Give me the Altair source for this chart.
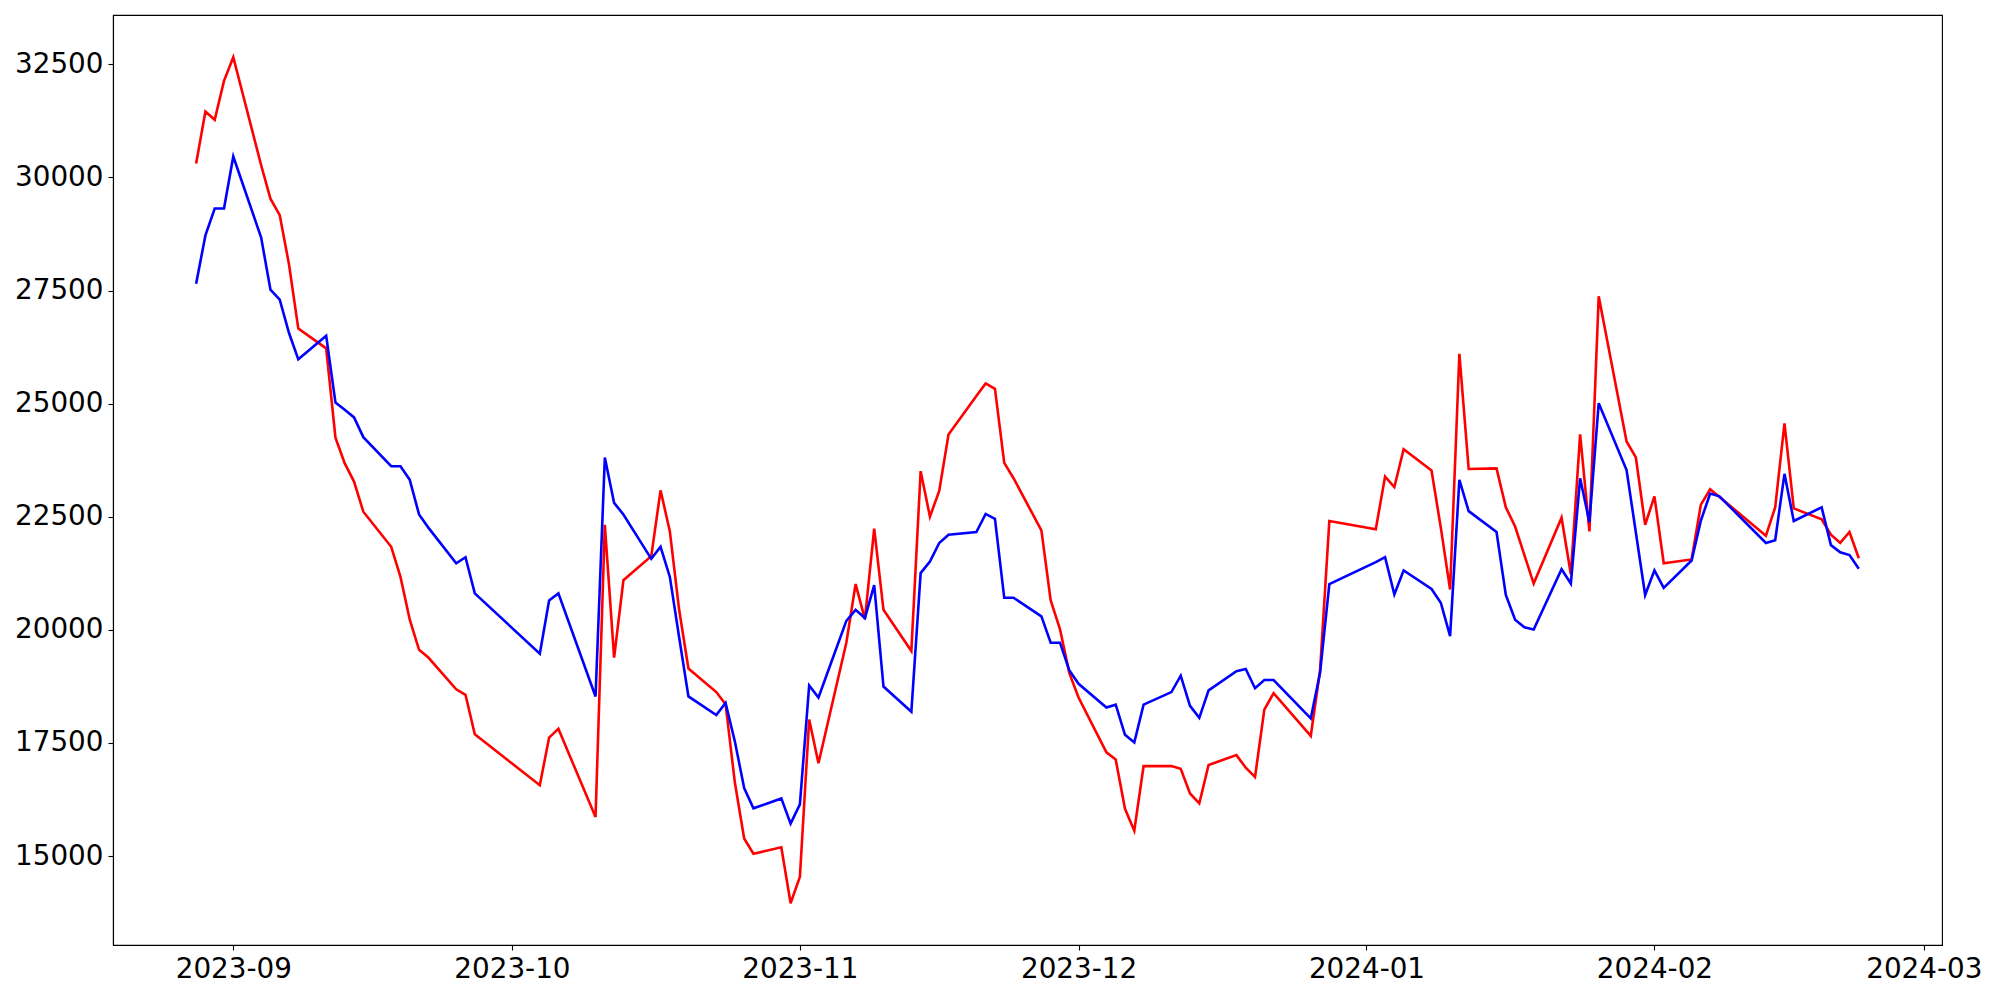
import altair as alt
import pandas as pd

# Trading days (Korean exchange calendar), by month
days_by_month = {
    "2023-08": [28, 29, 30, 31],
    "2023-09": [1, 4, 5, 6, 7, 8, 11, 12, 13, 14, 15, 18, 19, 20, 21, 22, 25, 26, 27],
    "2023-10": [4, 5, 6, 10, 11, 12, 13, 16, 17, 18, 19, 20, 23, 24, 25, 26, 27, 30, 31],
    "2023-11": [1, 2, 3, 6, 7, 8, 9, 10, 13, 14, 15, 16, 17, 20, 21, 22, 23, 24, 27, 28, 29, 30],
    "2023-12": [1, 4, 5, 6, 7, 8, 11, 12, 13, 14, 15, 18, 19, 20, 21, 22, 26, 27, 28],
    "2024-01": [2, 3, 4, 5, 8, 9, 10, 11, 12, 15, 16, 17, 18, 19, 22, 23, 24, 25, 26, 29, 30, 31],
    "2024-02": [1, 2, 5, 6, 7, 8, 13, 14, 15, 16, 19, 20, 21, 22, 23],
}
dates = [f"{m}-{d:02d}" for m, ds in days_by_month.items() for d in ds]

red_values = [
    30307, 31458, 31276, 32136,
    32658, 30270, 29531, 29168, 28077, 26659, 26223, 24248, 23678, 23278, 22612, 21836, 21170, 20224, 19558, 19388, 18685, 18564, 17692,
    16565, 17619, 17813, 15862, 22321, 19388, 21097, 21630, 23084, 22175, 20443, 19146, 18625, 18358, 16625, 15389, 15050, 15195, 13957,
    14541, 18019, 17050, 19716, 21012, 20237, 22236, 20443, 19534, 23508, 22503, 23072, 24320, 25169, 25447, 25326, 23690, 23351, 22200, 20649, 20018, 19049,
    18504, 17292, 17134, 16044, 15559, 16989, 16989, 16928, 16383, 16165, 17013, 17231, 16952, 16747, 18237, 18601, 17655, 19100, 22406,
    22224, 23387, 23157, 23993, 23521, 22260, 20891, 26102, 23557, 23569, 22709, 22284, 21654, 21024, 22478, 21230, 24320, 22175, 27374, 24163, 23811, 22321,
    22951, 21473, 21557, 22769, 23109, 22939, 22079, 22709, 24563, 22684, 22442, 22103, 21921, 22163, 21582,
]

blue_values = [
    27653, 28719, 29313, 29313,
    30464, 28671, 27520, 27301, 26562, 25980, 26502, 25024, 24866, 24696, 24260, 23618, 23618, 23315, 22551, 22260, 21473, 21606, 20806,
    19473, 20649, 20806, 18528, 23811, 22806, 22551, 21570, 21836, 21170, 19837, 18528, 18116, 18383, 17534, 16504, 16056, 16274, 15716,
    16141, 18770, 18504, 20200, 20443, 20261, 20988, 18746, 18189, 21255, 21509, 21921, 22103, 22163, 22563, 22454, 20709, 20709, 20297, 19716, 19716, 19110,
    18807, 18285, 18346, 17680, 17510, 18346, 18625, 18988, 18322, 18055, 18661, 19085, 19134, 18710, 18891, 18891, 18043, 19049, 21012,
    21497, 21606, 20782, 21315, 20903, 20600, 19861, 23315, 22624, 22163, 20770, 20225, 20055, 20006, 21339, 21024, 23351, 22381, 25011, 23533, 22151, 20770,
    21315, 20927, 21533, 22418, 23012, 22951, 21921, 21982, 23448, 22406, 22709, 21873, 21715, 21654, 21352,
]

y_ticks = [15000, 17500, 20000, 22500, 25000, 27500, 30000, 32500]
x_ticks = [(2023, 9), (2023, 10), (2023, 11), (2023, 12), (2024, 1), (2024, 2), (2024, 3)]

df_red = pd.DataFrame({"date": dates, "value": red_values})
df_blue = pd.DataFrame({"date": dates, "value": blue_values})

FONT = "DejaVu Sans"
FS = 27.8

x_enc = alt.X(
    "date:T",
    scale=alt.Scale(
        type="utc",
        nice=False,
        domain=[
            alt.DateTime(year=2023, month=8, date=19, hours=1, minutes=12, utc=True),
            alt.DateTime(year=2024, month=3, date=2, hours=23, utc=True),
        ],
    ),
    axis=alt.Axis(
        values=[alt.DateTime(year=y, month=m, date=1, utc=True) for y, m in x_ticks],
        format="%Y-%m",
        title=None,
        grid=False,
        labelFont=FONT,
        labelFontSize=FS,
        labelColor="black",
        labelFlush=False,
        labelOverlap=False,
        labelPadding=5,
        tickColor="black",
        tickSize=5,
        tickWidth=1.1,
        domainColor="black",
        domainWidth=1.1,
    ),
)

y_enc = alt.Y(
    "value:Q",
    scale=alt.Scale(domain=[13034, 33591], nice=False, zero=False),
    axis=alt.Axis(
        values=y_ticks,
        format="d",
        title=None,
        grid=False,
        labelFont=FONT,
        labelFontSize=FS,
        labelColor="black",
        labelFlush=False,
        labelOverlap=False,
        labelPadding=5,
        tickColor="black",
        tickSize=5,
        tickWidth=1.1,
        domainColor="black",
        domainWidth=1.1,
    ),
)

red = alt.Chart(df_red).mark_line(color="#ff0000", strokeWidth=2.6, clip=True).encode(x=x_enc, y=y_enc)
blue = alt.Chart(df_blue).mark_line(color="#0000ff", strokeWidth=2.6, clip=True).encode(x=x_enc, y=y_enc)

chart = (
    alt.layer(red, blue)
    .properties(
        width=1829,
        height=930,
        autosize=alt.AutoSizeParams(type="none"),
        padding={"left": 105, "top": 7, "right": 50, "bottom": 40},
        background="white",
    )
    .configure_view(stroke="black", strokeWidth=1.1)
)

chart.save("out.html", embed_options={"renderer": "svg", "actions": False})
